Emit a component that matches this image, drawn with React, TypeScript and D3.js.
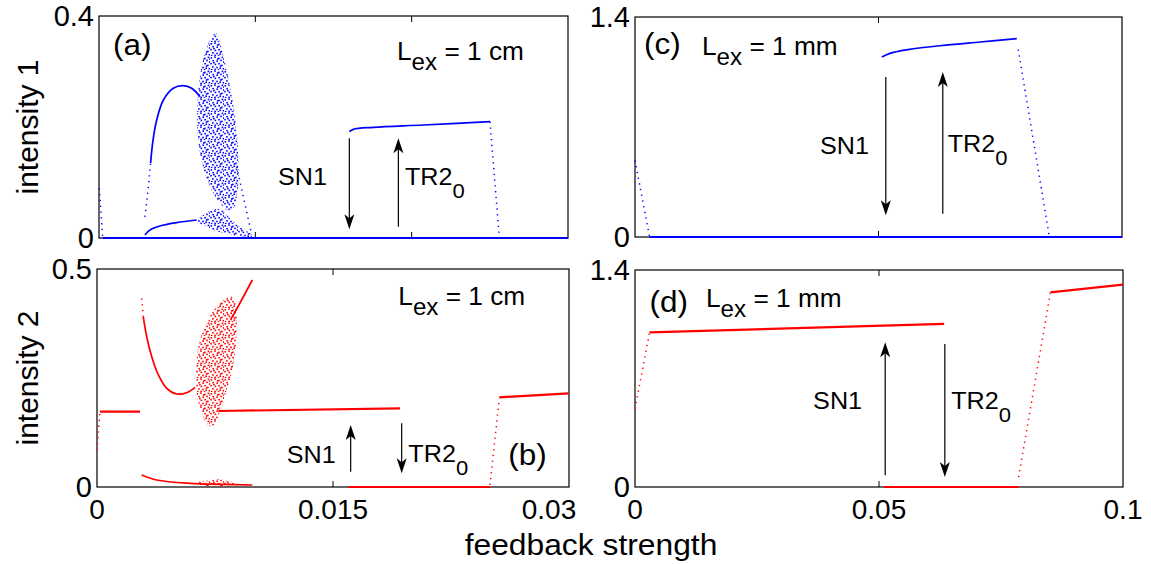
import React from 'react';
import * as d3 from 'd3';

type P = [number, number];

// ---------- Panel (a): intensity 1, L_ex = 1 cm ----------
const aDotted: P[][] = [
  [[0.00002, 0.0895], [0.000235, 0]],
  [[0.00294, 0.038], [0.00316, 0.0925], [0.0033, 0.135]],
  [[0.008807, 0.1285], [0.00977, 0.0054]],
  [[0.02501, 0.2096], [0.02561, 0]],
];
const aSolid: P[][] = [
  [[0.000235, 0], [0.03, 0]],
  [[0.0033, 0.135], [0.00345, 0.175], [0.00369, 0.2126], [0.00412, 0.2486], [0.00475, 0.2697], [0.00539, 0.2744], [0.00593, 0.2697], [0.00646, 0.2546]],
  [[0.00294, 0.0054], [0.00326, 0.0144], [0.0039, 0.0216], [0.00497, 0.0276], [0.00625, 0.0324]],
  [[0.016014, 0.1916], [0.01627, 0.1958], [0.01755, 0.1994], [0.02075, 0.2036], [0.02501, 0.2096]],
];
const aChaos: P[][] = [
  [[0.00742, 0.3688], [0.0071, 0.3568], [0.00678, 0.3327], [0.006525, 0.3027], [0.006354, 0.2667], [0.00629, 0.2306], [0.006312, 0.1886], [0.006461, 0.1526], [0.00678, 0.1165], [0.007207, 0.0865], [0.00774, 0.0625], [0.008167, 0.0505], [0.008593, 0.0535], [0.008807, 0.0745], [0.008935, 0.1105], [0.008913, 0.1465], [0.008807, 0.1886], [0.008636, 0.2306], [0.008423, 0.2667], [0.008167, 0.3027], [0.007911, 0.3327], [0.007698, 0.3568], [0.007527, 0.3688]],
  [[0.006248, 0.0324], [0.006674, 0.0414], [0.0071, 0.0492], [0.007634, 0.0523], [0.007954, 0.0492], [0.008167, 0.0414], [0.008594, 0.0294], [0.009127, 0.0174], [0.00966, 0.0084], [0.009873, 0.0036], [0.009447, 0.0018], [0.008807, 0.0036], [0.007954, 0.0084], [0.007314, 0.0144], [0.006674, 0.0234], [0.006248, 0.0294]],
];
// arrows: [x, yFrom, yTo]
const aArrows: [number, number, number][] = [
  [0.016014, 0.1796, 0.0156],
  [0.01915, 0.0204, 0.1796],
];

// ---------- Panel (b): intensity 2, L_ex = 1 cm ----------
const bDotted: P[][] = [
  [[0, 0.0849], [0.00019, 0.1728]],
  [[0.00284, 0.4327], [0.00294, 0.3906]],
  [[0.02498, 0.0046], [0.02557, 0.2034]],
];
const bSolid: P[][] = [
  [[0.00019, 0.1728], [0.00273, 0.1728]],
  [[0.00294, 0.3906], [0.00316, 0.3447], [0.00348, 0.2989], [0.0039, 0.2569], [0.00443, 0.2263], [0.00507, 0.2133], [0.0057, 0.2163], [0.00623, 0.2287]],
  [[0.0085, 0.385], [0.008665, 0.3945], [0.009873, 0.4748]],
  [[0.007712, 0.1743], [0.01926, 0.1804]],
  [[0.00284, 0.0275], [0.00379, 0.0161], [0.00591, 0.0084], [0.00803, 0.0061], [0.00987, 0.0046]],
  [[0.015975, 0], [0.02498, 0]],
  [[0.02557, 0.2057], [0.02998, 0.2148]],
];
const bChaos: P[][] = [
  [[0.00856, 0.4366], [0.008771, 0.4251], [0.008877, 0.3983], [0.008877, 0.3525], [0.008771, 0.3066], [0.00856, 0.2607], [0.008242, 0.2225], [0.007924, 0.1843], [0.007606, 0.1537], [0.007288, 0.1384], [0.00697, 0.146], [0.006653, 0.169], [0.006377, 0.2072], [0.006292, 0.2454], [0.00633, 0.2913], [0.006547, 0.3372], [0.006864, 0.3677], [0.007288, 0.3983], [0.007818, 0.4213], [0.008242, 0.4327]],
  [[0.006335, 0.0099], [0.00697, 0.0145], [0.007606, 0.0176], [0.008242, 0.0145], [0.008771, 0.0084], [0.008453, 0.0023], [0.007606, 0.0008], [0.006758, 0.0031]],
];
const bArrows: [number, number, number][] = [
  [0.016124, 0.0352, 0.1422],
  [0.019365, 0.146, 0.0313],
];

// ---------- Panel (c): intensity 1, L_ex = 1 mm ----------
const cDotted: P[][] = [
  [[0, 0.487], [0.003, 0]],
  [[0.0787, 1.192], [0.0851, 0]],
];
const cSolid: P[][] = [
  [[0.003, 0], [0.1, 0]],
  [[0.0507, 1.145], [0.0522, 1.167], [0.056, 1.192], [0.0634, 1.22], [0.0709, 1.241], [0.0784, 1.262]],
];
const cArrows: [number, number, number][] = [
  [0.0515, 1.018, 0.138],
  [0.0632, 0.148, 1.05],
];

// ---------- Panel (d): intensity 2, L_ex = 1 mm ----------
const dDotted: P[][] = [
  [[0, 0.504], [0.00298, 0.998]],
  [[0.07861, 0.064], [0.0851, 1.25]],
];
const dSolid: P[][] = [
  [[0.00298, 0.998], [0.06334, 1.052]],
  [[0.05104, 0], [0.07861, 0]],
  [[0.0851, 1.256], [0.1, 1.306]],
];
const dArrows: [number, number, number][] = [
  [0.05127, 0.0752, 0.934],
  [0.06349, 0.923, 0.0644],
];

// ---------- Tick values and labels ----------
const aXTicks = [0.01, 0.02];
const bXTicks = [0.015];
const cXTicks = [0.05];
const dXTicks = [0.05];
const bXLabels: [number, string][] = [[0, '0'], [0.015, '0.015'], [0.03, '0.03']];
const dXLabels: [number, string][] = [[0, '0'], [0.05, '0.05'], [0.1, '0.1']];
const aYLabels: [number, string][] = [[0, '0'], [0.4, '0.4']];
const bYLabels: [number, string][] = [[0, '0'], [0.5, '0.5']];
const cYLabels: [number, string][] = [[0, '0'], [1.4, '1.4']];
const dYLabels: [number, string][] = [[0, '0'], [1.4, '1.4']];

const BLUE = '#0000ff';
const RED = '#ff0000';
const FONT = 'Liberation Sans, Arial, Helvetica, sans-serif';

type Ann = { x: number; y: number; kind: 'letter' | 'lex' | 'sn' | 'tr'; text: string };

const aAnn: Ann[] = [
  { x: 0.000896, y: 0.33, kind: 'letter', text: '(a)' },
  { x: 0.01906, y: 0.3207, kind: 'lex', text: '1 cm' },
  { x: 0.01145, y: 0.0955, kind: 'sn', text: 'SN1' },
  { x: 0.01957, y: 0.0955, kind: 'tr', text: 'TR2' },
];
const bAnn: Ann[] = [
  { x: 0.01915, y: 0.4174, kind: 'lex', text: '1 cm' },
  { x: 0.01206, y: 0.055, kind: 'sn', text: 'SN1' },
  { x: 0.01979, y: 0.0573, kind: 'tr', text: 'TR2' },
  { x: 0.02614, y: 0.0505, kind: 'letter', text: '(b)' },
];
const cAnn: Ann[] = [
  { x: 0.00185, y: 1.1645, kind: 'letter', text: '(c)' },
  { x: 0.01376, y: 1.158, kind: 'lex', text: '1 mm' },
  { x: 0.038, y: 0.528, kind: 'sn', text: 'SN1' },
  { x: 0.0642, y: 0.541, kind: 'tr', text: 'TR2' },
];
const dAnn: Ann[] = [
  { x: 0.00297, y: 1.129, kind: 'letter', text: '(d)' },
  { x: 0.01455, y: 1.161, kind: 'lex', text: '1 mm' },
  { x: 0.0365, y: 0.503, kind: 'sn', text: 'SN1' },
  { x: 0.0648, y: 0.503, kind: 'tr', text: 'TR2' },
];

type Panel = {
  id: string;
  box: { l: number; r: number; t: number; b: number };
  xMax: number;
  yMax: number;
  color: string;
  dotted: P[][];
  solid: P[][];
  chaos: P[][];
  arrows: [number, number, number][];
  xTicks: number[];
  xLabels: [number, string][];
  lastLabelShift: number;
  yLabels: [number, string][];
  ann: Ann[];
};

const panels: Panel[] = [
  { id: 'a', box: { l: 99, r: 568, t: 16, b: 238 }, xMax: 0.03, yMax: 0.4, color: BLUE, dotted: aDotted, solid: aSolid, chaos: aChaos, arrows: aArrows, xTicks: aXTicks, xLabels: [], lastLabelShift: 0, yLabels: aYLabels, ann: aAnn },
  { id: 'b', box: { l: 97, r: 569, t: 269, b: 487 }, xMax: 0.03, yMax: 0.5, color: RED, dotted: bDotted, solid: bSolid, chaos: bChaos, arrows: bArrows, xTicks: bXTicks, xLabels: bXLabels, lastLabelShift: -20, yLabels: bYLabels, ann: bAnn },
  { id: 'c', box: { l: 635, r: 1122, t: 17, b: 237 }, xMax: 0.1, yMax: 1.4, color: BLUE, dotted: cDotted, solid: cSolid, chaos: [], arrows: cArrows, xTicks: cXTicks, xLabels: [], lastLabelShift: 0, yLabels: cYLabels, ann: cAnn },
  { id: 'd', box: { l: 635, r: 1123, t: 270, b: 487 }, xMax: 0.1, yMax: 1.4, color: RED, dotted: dDotted, solid: dSolid, chaos: [], arrows: dArrows, xTicks: dXTicks, xLabels: dXLabels, lastLabelShift: 0, yLabels: dYLabels, ann: dAnn },
];

// fixed scatter layout inside a 14x14 tile (visual texture for the chaotic regions)
const TILE_DOTS: [number, number][] = [
  [0.5, 1], [4.2, 0.3], [8.1, 1.6], [11.6, 0.6], [2.3, 3.9], [6.4, 4.4], [10.2, 3.6], [12.9, 5.2],
  [0.2, 6.8], [4.6, 7.6], [8.3, 6.9], [11.1, 8.6], [2.1, 10.1], [6.2, 10.7], [9.4, 11.4], [12.6, 11.9],
  [0.9, 12.9], [4.3, 12.6], [7.7, 13.1], [3.1, 5.8], [13.2, 2.4], [9.8, 9.2], [6.9, 2.2],
];

function T(props: { x: number; y: number; size: number; sx?: number; anchor?: string; rotate?: number; children: React.ReactNode }) {
  const { x, y, size, sx = 1, anchor = 'start', rotate = 0, children } = props;
  return (
    <g transform={`translate(${x},${y}) rotate(${rotate}) scale(${sx},1)`}>
      <text fontFamily={FONT} fontSize={size} textAnchor={anchor as any} fill="#000">
        {children}
      </text>
    </g>
  );
}

function Arrow({ x, y1, y2 }: { x: number; y1: number; y2: number }) {
  const dir = y2 > y1 ? 1 : -1;
  const hl = 15;
  const hw = 5;
  const notch = 4;
  const base = y2 - dir * hl;
  const d = `M${x},${y2} L${x - hw},${base} L${x},${base + dir * notch} L${x + hw},${base} Z`;
  return (
    <g>
      <line x1={x} y1={y1} x2={x} y2={base + dir * notch} stroke="#000" strokeWidth={1.2} />
      <path d={d} fill="#000" />
    </g>
  );
}

function PanelView({ p }: { p: Panel }) {
  const { l, r, t, b } = p.box;
  const x = d3.scaleLinear().domain([0, p.xMax]).range([l, r]);
  const y = d3.scaleLinear().domain([0, p.yMax]).range([b, t]);
  const line = d3.line<P>().x((d) => x(d[0])).y((d) => y(d[1])).curve(d3.curveCatmullRom.alpha(0.5));
  const closed = d3.line<P>().x((d) => x(d[0])).y((d) => y(d[1])).curve(d3.curveCatmullRomClosed.alpha(0.5));
  const straight = d3.line<P>().x((d) => x(d[0])).y((d) => y(d[1]));
  const patId = `pat-${p.id}`;
  return (
    <g>
      <defs>
        <clipPath id={`clip-${p.id}`}>
          <rect x={l - 2} y={t} width={r - l + 2} height={b - t + 2} />
        </clipPath>
        <pattern id={patId} width={14} height={14} patternUnits="userSpaceOnUse">
          {TILE_DOTS.map(([dx, dy], i) => (
            <rect key={i} x={dx} y={dy} width={1.6} height={1.6} fill={p.color} />
          ))}
        </pattern>
      </defs>
      <rect x={l} y={t} width={r - l} height={b - t} fill="none" stroke="#000" strokeWidth={1.2} />
      {p.xTicks.map((v) => (
        <g key={v}>
          <line x1={x(v)} x2={x(v)} y1={b} y2={b - 6} stroke="#000" strokeWidth={1} />
          <line x1={x(v)} x2={x(v)} y1={t} y2={t + 6} stroke="#000" strokeWidth={1} />
        </g>
      ))}
      <g clipPath={`url(#clip-${p.id})`}>
        {p.chaos.map((poly, i) => (
          <path key={`c${i}`} d={closed(poly) || ''} fill={`url(#${patId})`} stroke="none" />
        ))}
        {p.solid.map((seg, i) => (
          <path key={`s${i}`} d={line(seg) || ''} fill="none" stroke={p.color} strokeWidth={seg.length > 2 ? 1.7 : 2.2} />
        ))}
        {p.dotted.map((seg, i) => (
          <path key={`d${i}`} d={straight(seg) || ''} fill="none" stroke={p.color} strokeWidth={1.5} strokeDasharray="1.3 4.5" />
        ))}
      </g>
      {p.arrows.map(([ax, y1, y2], i) => (
        <Arrow key={`a${i}`} x={x(ax)} y1={y(y1)} y2={y(y2)} />
      ))}
      {p.yLabels.map(([v, s]) => (
        <T key={`yl${v}`} x={l - 5} y={y(v) + 10} size={29} anchor="end">{s}</T>
      ))}
      {p.xLabels.map(([v, s], i) => (
        <T key={`xl${v}`} x={x(v) + (i === p.xLabels.length - 1 ? p.lastLabelShift : 0)} y={b + 32} size={28} anchor="middle">{s}</T>
      ))}
      {p.ann.map((a, i) => {
        const px = x(a.x);
        const py = y(a.y);
        if (a.kind === 'letter') return <T key={i} x={px} y={py} size={30} sx={1.05}>{a.text}</T>;
        if (a.kind === 'lex')
          return (
            <T key={i} x={px} y={py} size={25} sx={1.05}>
              <tspan>L</tspan>
              <tspan dy={10} fontSize={23}>ex</tspan>
              <tspan dy={-10}>{' = ' + a.text}</tspan>
            </T>
          );
        if (a.kind === 'sn') return <T key={i} x={px} y={py} size={24} sx={1.05}>{a.text}</T>;
        return (
          <T key={i} x={px} y={py} size={24} sx={1.05}>
            <tspan>{a.text}</tspan>
            <tspan dy={13} fontSize={21}>0</tspan>
          </T>
        );
      })}
    </g>
  );
}

export default function App() {
  return (
    <svg width={1151} height={564} style={{ position: 'absolute', left: 0, top: 0, background: '#fff' }}>
      <rect width={1151} height={564} fill="#fff" />
      {panels.map((p) => (
        <PanelView key={p.id} p={p} />
      ))}
      <T x={38} y={127} size={30} anchor="middle" rotate={-90}>intensity 1</T>
      <T x={38} y={378} size={30} anchor="middle" rotate={-90}>intensity 2</T>
      <T x={591} y={555} size={30} sx={1.06} anchor="middle">feedback strength</T>
    </svg>
  );
}
